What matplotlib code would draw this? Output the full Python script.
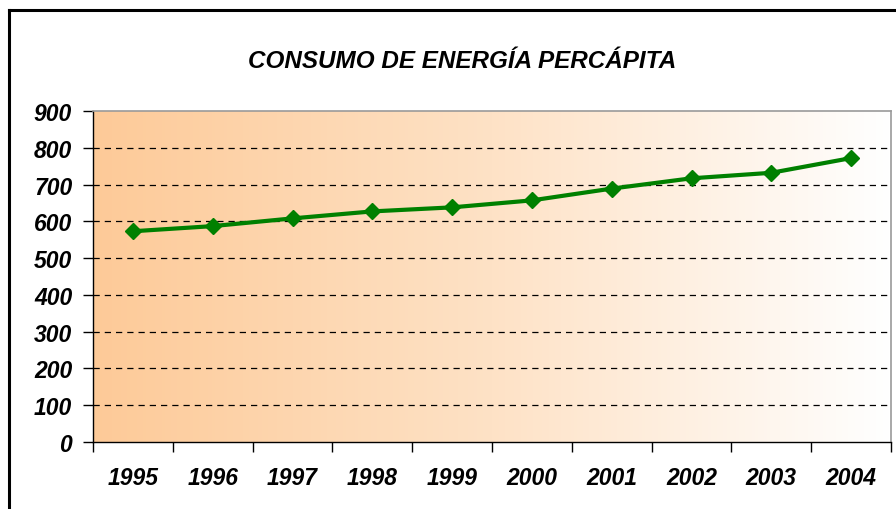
import matplotlib
matplotlib.use("Agg")
import matplotlib.pyplot as plt
import numpy as np
from matplotlib.colors import LinearSegmentedColormap
from matplotlib.lines import Line2D

years = ["1995", "1996", "1997", "1998", "1999", "2000", "2001", "2002", "2003", "2004"]
consumo = [573, 587, 608, 627, 638, 657, 689, 717, 732, 772]
yticks = [0, 100, 200, 300, 400, 500, 600, 700, 800, 900]
title = "CONSUMO DE ENERGÍA PERCÁPITA"

W, H = 896, 510
fig = plt.figure(figsize=(W / 100, H / 100), dpi=100)
plt.rcParams['font.family'] = ['Liberation Sans', 'DejaVu Sans']

# figure frame (top and left visible)
fig.add_artist(Line2D([9 / W, 9 / W], [0, 1 - 11 / H], color='black', lw=2.2, transform=fig.transFigure))
fig.add_artist(Line2D([9 / W, 1], [1 - 11 / H, 1 - 11 / H], color='black', lw=2.2, transform=fig.transFigure))

left, right, top, bottom = 93, 891, 112, 443
ax = fig.add_axes([left / W, 1 - bottom / H, (right - left) / W, (bottom - top) / H])

n = len(years)
# gradient background
cmap = LinearSegmentedColormap.from_list("g", ["#FDCA98", "#FEE2C6", "#FFFFFF"])
grad = np.linspace(0, 1, 256).reshape(1, -1)
ax.imshow(grad, cmap=cmap, aspect='auto', extent=[0, n, 0, 900], zorder=0)

ax.set_xlim(0, n)
ax.set_ylim(0, 900)

for v in yticks[1:-1]:
    ax.axhline(v, color='black', lw=0.9, ls=(0, (5, 4)), zorder=1)

x = np.arange(n) + 0.5
ax.plot(x, consumo, color='#008000', lw=3, marker='D', markersize=8, zorder=3)

ax.set_yticks(yticks)
ax.set_yticklabels([str(v) for v in yticks], fontsize=16.5, fontweight='bold', fontstyle='italic')
ax.set_xticks(np.arange(n + 1))
ax.set_xticklabels([])
ax.set_xticks(x, minor=True)
ax.set_xticklabels(years, minor=True, fontsize=16.5, fontweight='bold', fontstyle='italic')
ax.tick_params(axis='x', which='minor', length=0, pad=17)
ax.tick_params(axis='x', which='major', length=7, width=1, direction='out')
ax.tick_params(axis='y', length=7, width=1, direction='out', pad=8)

for s in ['left', 'bottom']:
    ax.spines[s].set_color('black')
    ax.spines[s].set_linewidth(1)
for s in ['top', 'right']:
    ax.spines[s].set_color('#9a9a9a')
    ax.spines[s].set_linewidth(1.2)

fig.text(462 / W, 1 - 62 / H, title, ha='center', va='center', fontsize=17.5,
         fontweight='bold', fontstyle='italic')

fig.savefig("out.png", dpi=100)
